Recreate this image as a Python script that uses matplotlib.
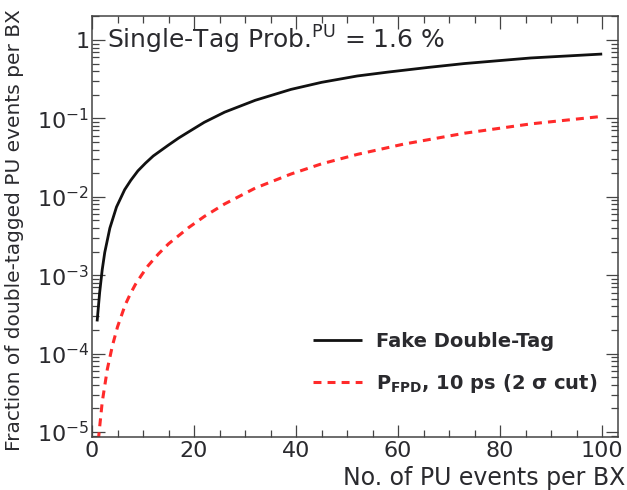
import matplotlib
matplotlib.use("Agg")
import matplotlib.pyplot as plt
from matplotlib.ticker import FixedLocator, FixedFormatter, LogLocator, NullFormatter, MultipleLocator

plt.rcParams['font.family'] = ['DejaVu Sans']
plt.rcParams['mathtext.fontset'] = 'dejavusans'

# ---- data ----
pu_black = [1, 1.5, 2, 2.5, 3.5, 4.8, 6.4, 7.6, 9, 10.5, 12, 13.5, 15, 17, 19, 22, 26, 32, 39, 45,
            52, 58, 66, 73, 86, 100]
fake_double_tag = [2.57e-4, 6.0e-4, 1.17e-3, 1.95e-3, 3.98e-3, 7.4e-3, 1.23e-2, 1.62e-2, 2.14e-2,
                   2.69e-2, 3.31e-2, 3.89e-2, 4.57e-2, 5.62e-2, 6.76e-2, 8.9e-2, 0.120, 0.170,
                   0.234, 0.288, 0.347, 0.389, 0.447, 0.50, 0.589, 0.661]

pu_red = [1, 1.4, 2, 3, 4, 5, 6.5, 7.5, 8.5, 9.7, 11, 13, 15, 19, 22, 26, 32, 39, 45, 52, 61, 73,
          86, 100]
p_fpd = [5.2e-6, 1.0e-5, 2.4e-5, 6.3e-5, 1.26e-4, 2.19e-4, 4.17e-4, 5.75e-4, 7.6e-4, 1.0e-3,
         1.32e-3, 1.86e-3, 2.51e-3, 4.07e-3, 5.6e-3, 8.1e-3, 1.29e-2, 1.95e-2, 2.63e-2, 3.47e-2,
         4.68e-2, 6.46e-2, 8.5e-2, 0.106]

y_tick_values = [1e-5, 1e-4, 1e-3, 1e-2, 1e-1, 1]
y_tick_labels = [r'$10^{-5}$', r'$10^{-4}$', r'$10^{-3}$', r'$10^{-2}$', r'$10^{-1}$', '1']
x_tick_values = [0, 20, 40, 60, 80, 100]

label_black = 'Fake Double-Tag'
label_red = r'P$_{\mathbf{FPD}}$, 10 ps (2 σ cut)'
title_text = r'Single-Tag Prob.$^{\mathrm{PU}}$ = 1.6 %'
xlabel = 'No. of PU events per BX'
ylabel = 'Fraction of double-tagged PU events per BX'

# ---- figure ----
txt = '#2a2a2e'
fig = plt.figure(figsize=(6.27, 4.90), dpi=100)
ax = fig.add_axes([92 / 627, 53 / 490, 526 / 627, 421 / 490])

ax.plot(pu_black, fake_double_tag, color='#111111', lw=2.0, label=label_black,
        solid_capstyle='butt', solid_joinstyle='round')
ax.plot(pu_red, p_fpd, color='#ff2a2a', lw=2.2, linestyle=(0, (2.6, 2.0)), label=label_red)

ax.set_yscale('log')
ax.set_xlim(0, 103.1)
ax.set_ylim(8.63e-6, 2.02)

ax.yaxis.set_major_locator(FixedLocator(y_tick_values))
ax.yaxis.set_major_formatter(FixedFormatter(y_tick_labels))
ax.yaxis.set_minor_locator(LogLocator(base=10, subs=[2, 3, 4, 5, 6, 7, 8, 9], numticks=50))
ax.yaxis.set_minor_formatter(NullFormatter())
ax.xaxis.set_major_locator(FixedLocator(x_tick_values))
ax.xaxis.set_minor_locator(MultipleLocator(5))

ax.tick_params(which='both', direction='in', top=True, right=True, colors='#444444',
               labelcolor=txt, width=0.9)
ax.tick_params(which='major', length=9)
ax.tick_params(which='minor', length=5)
ax.tick_params(axis='x', which='major', labelsize=16, pad=3)
ax.tick_params(axis='y', which='major', labelsize=16, pad=2)
for s in ax.spines.values():
    s.set_color('#444444')
    s.set_linewidth(1.1)

ax.set_xlabel(xlabel, fontsize=17, color=txt, ha='right')
ax.xaxis.set_label_coords(1.013, -0.07)
ax.set_ylabel(ylabel, fontsize=14.5, color=txt, ha='right')
ax.yaxis.set_label_coords(-0.13, 1.015)

ax.text(0.029, 0.943, title_text, transform=ax.transAxes, fontsize=18, color=txt,
        va='center', ha='left')

leg = ax.legend(loc='upper left', bbox_to_anchor=(0.42, 0.25), frameon=False,
                borderpad=0, borderaxespad=0, handlelength=2.5, handletextpad=0.75,
                labelspacing=1.1, prop={'weight': 'bold', 'size': 14})
for t in leg.get_texts():
    t.set_color(txt)

fig.savefig('out.png', dpi=100)
